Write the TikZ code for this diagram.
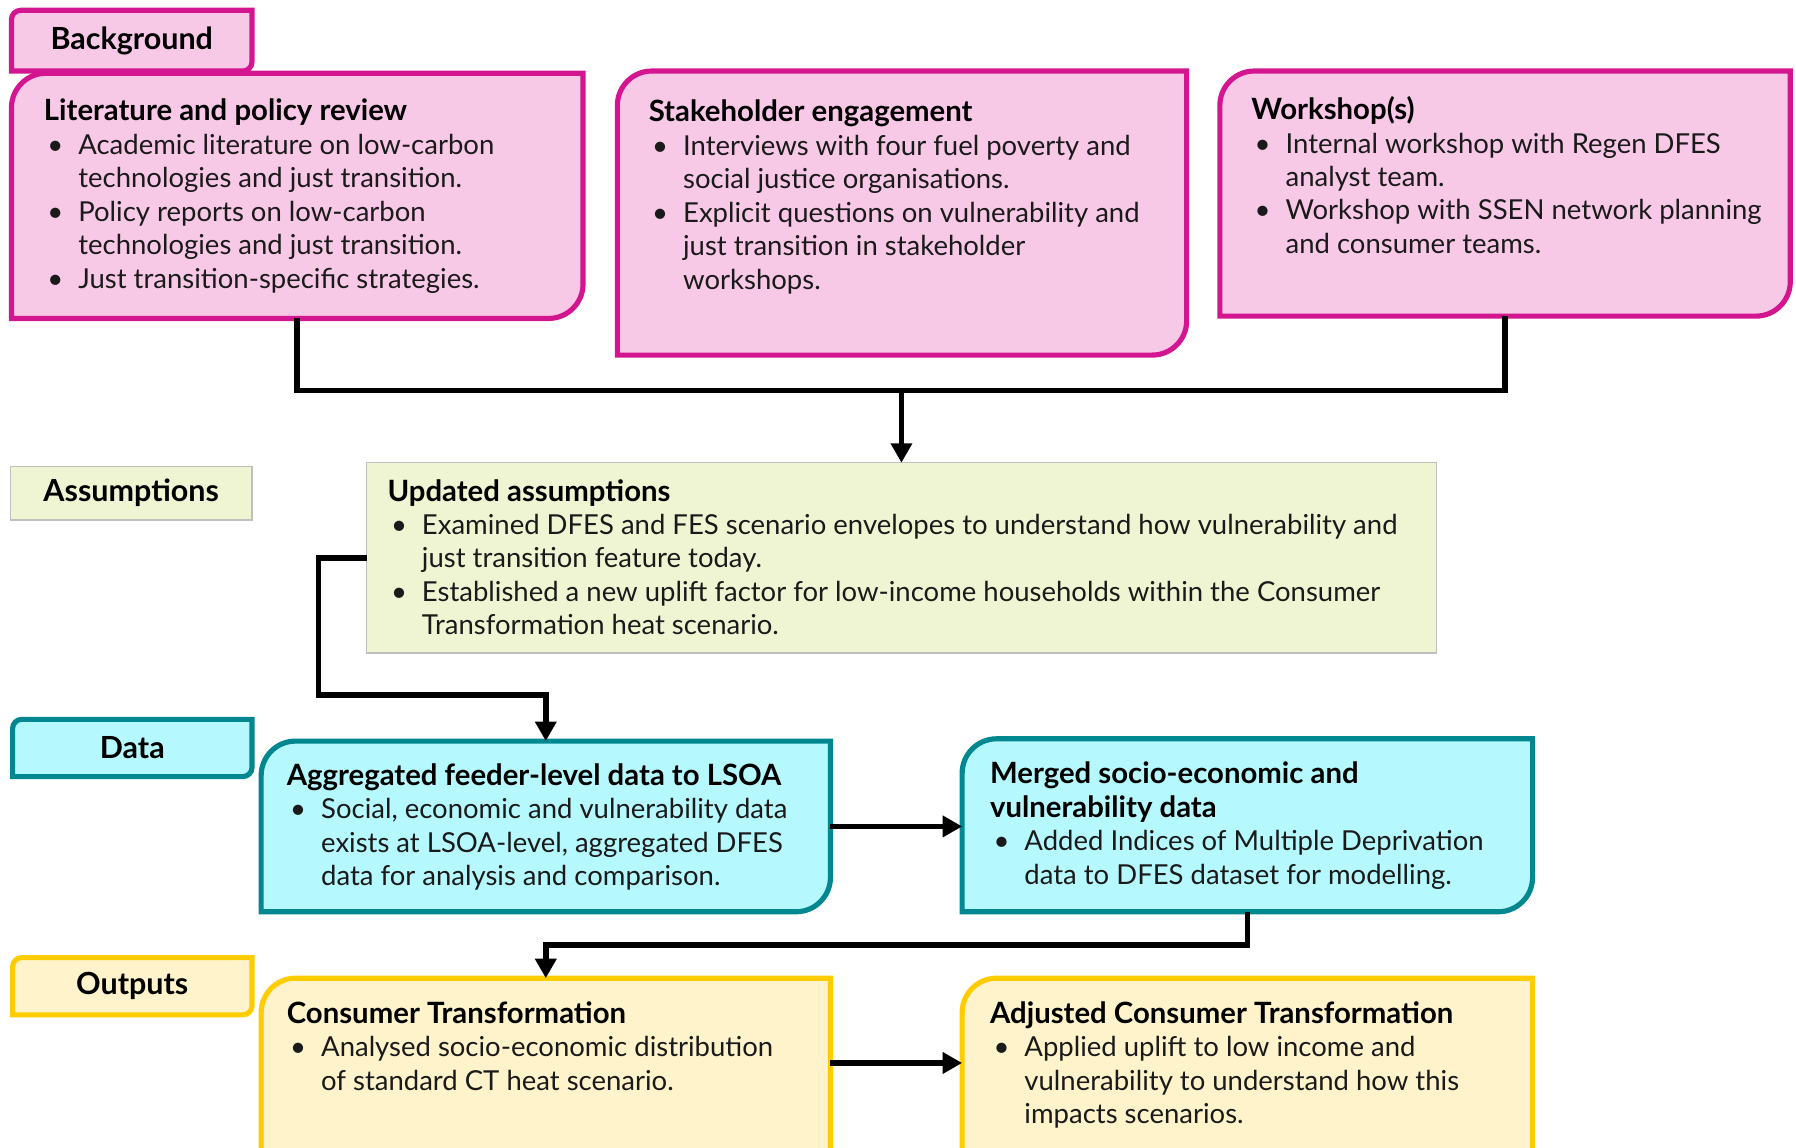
\documentclass[tikz,border=0pt]{standalone}
\usepackage{fontspec}
\setmainfont{Lato}
\usetikzlibrary{calc,arrows.meta}
\definecolor{pinkfill}{HTML}{F8C8E7}
\definecolor{pinkline}{HTML}{D3168F}
\definecolor{greenfill}{HTML}{EFF5D3}
\definecolor{greenline}{HTML}{BFBFBF}
\definecolor{cyanfill}{HTML}{B5F8FD}
\definecolor{cyanline}{HTML}{00878F}
\definecolor{yelfill}{HTML}{FEF3CA}
\definecolor{yelline}{HTML}{FFCC00}
\definecolor{txtcol}{HTML}{1A1A1A}
\newcommand\bul{\hspace*{1.5pt}\makebox[13.5pt][l]{\textbullet}}
\newcommand\cnt{\hspace*{15pt}}
\newcommand\tit[1]{\strut{\fontsize{12.8}{14.6}\selectfont\bfseries\color{black}#1}}
\newcommand\placebox[5]{\node[boxbase,anchor=north west,minimum width={(#4-#2)*0.5pt},minimum height={(#5-#3)*0.5pt}] (#1) at (#2,#3) {};}
\newcommand\cornerbox[3]{%
  \path[#1] (#2.south west) -- ($(#2.north west)+(0,#3)$)
    .. controls ($(#2.north west)+(0,0.448*#3)$) and ($(#2.north west)+(0.448*#3,0)$) .. ($(#2.north west)+(#3,0)$)
    -- (#2.north east) -- ($(#2.south east)+(0,-#3)$)
    .. controls ($(#2.south east)+(0,-0.448*#3)$) and ($(#2.south east)+(-0.448*#3,0)$) .. ($(#2.south east)+(-#3,0)$)
    -- cycle;}
\begin{document}
\begin{tikzpicture}[x=0.5pt,y=-0.5pt,
  boxbase/.style={rectangle,draw=none,inner sep=0pt,outer sep=0pt},
  pinkbox/.style={fill=pinkfill,draw=pinkline,line width=2.25pt},
  cyanbox/.style={fill=cyanfill,draw=cyanline,line width=2.25pt},
  yelbox/.style={fill=yelfill,draw=yelline,line width=2.25pt},
  greenbox/.style={fill=greenfill,draw=greenline,line width=0.6pt},
  txt/.style={anchor=north west,align=left,inner sep=0pt,text=txtcol,font=\fontsize{12}{14.6}\selectfont},
  lbl/.style={inner sep=0pt,font=\fontsize{13.3}{15}\selectfont\bfseries},
  conn/.style={draw=black,line width=2.5pt},
  arr/.style={conn,-{Triangle[width=9pt,length=8.5pt]}}]
\useasboundingbox (0,0) rectangle (1568,1002);
\clip (0,0) rectangle (1568,1002);

% boxes
\placebox{bgtab}{10}{9}{220}{62}
\placebox{lit}{10}{64}{509}{278}
\placebox{stake}{539}{62}{1036}{310}
\placebox{work}{1065}{62}{1563}{276}
\placebox{asmtab}{9}{407}{220}{454}
\placebox{upd}{320}{404}{1254}{570}
\placebox{datatab}{11}{628}{220}{678}
\placebox{agg}{228}{647}{725}{796}
\placebox{merged}{840}{645}{1338}{796}
\placebox{outtab}{11}{836}{220}{886}
\placebox{ct}{228}{854}{725}{1040}
\placebox{act}{840}{854}{1338}{1040}

\cornerbox{pinkbox}{bgtab}{8}
\cornerbox{pinkbox}{lit}{30}
\cornerbox{pinkbox}{stake}{30}
\cornerbox{pinkbox}{work}{30}
\path[greenbox] (asmtab.south west) rectangle (asmtab.north east);
\path[greenbox] (upd.south west) rectangle (upd.north east);
\cornerbox{cyanbox}{datatab}{8}
\cornerbox{cyanbox}{agg}{30}
\cornerbox{cyanbox}{merged}{30}
\cornerbox{yelbox}{outtab}{8}
\cornerbox{yelbox}{ct}{30}
\cornerbox{yelbox}{act}{30}

% labels
\node[lbl] (bgtxt) at (bgtab.center) {Background};
\node[lbl] (asmtxt) at (asmtab.center) {Assumptions};
\node[lbl] (datatxt) at (datatab.center) {Data};
\node[lbl] (outtxt) at (outtab.center) {Outputs};

% texts
\node[txt] (littxt) at (38,84.6) {\tit{Literature and policy review}\\
\bul Academic literature on low-carbon\\
\cnt technologies and just transition.\\
\bul Policy reports on low-carbon\\
\cnt technologies and just transition.\\
\bul Just transition-specific strategies.};

\node[txt] (staketxt) at (566,85.6) {\tit{Stakeholder engagement}\\
\bul Interviews with four fuel poverty and\\
\cnt social justice organisations.\\
\bul Explicit questions on vulnerability and\\
\cnt just transition in stakeholder\\
\cnt workshops.};

\node[txt] (worktxt) at (1092,83.6) {\tit{Workshop(s)}\\
\bul Internal workshop with Regen DFES\\
\cnt analyst team.\\
\bul Workshop with SSEN network planning\\
\cnt and consumer teams.};

\node[txt] (updtxt) at (338,416.6) {\tit{Updated assumptions}\\
\bul Examined DFES and FES scenario envelopes to understand how vulnerability and\\
\cnt just transition feature today.\\
\bul Established a new uplift factor for low-income households within the Consumer\\
\cnt Transformation heat scenario.};

\node[txt] (aggtxt) at (250,664.6) {\tit{Aggregated feeder-level data to LSOA}\\
\bul Social, economic and vulnerability data\\
\cnt exists at LSOA-level, aggregated DFES\\
\cnt data for analysis and comparison.};

\node[txt] (mergedtxt) at (864,663.6) {\tit{Merged socio-economic and}\\
\tit{vulnerability data}\\
\bul Added Indices of Multiple Deprivation\\
\cnt data to DFES dataset for modelling.};

\node[txt] (cttxt) at (250,872.6) {\tit{Consumer Transformation}\\
\bul Analysed socio-economic distribution\\
\cnt of standard CT heat scenario.};

\node[txt] (acttxt) at (864,872.6) {\tit{Adjusted Consumer Transformation}\\
\bul Applied uplift to low income and\\
\cnt vulnerability to understand how this\\
\cnt impacts scenarios.};

% connectors
\coordinate (j1) at (787,341);
\coordinate (k1) at (278,607);
\coordinate (k2) at (0,825);
\coordinate (c928) at (0,928);
\draw[conn] (lit.south) -- (lit.south |- j1) -- (work.south |- j1) -- (work.south);
\draw[arr] (j1) -- (upd.north);
\draw[arr] (upd.west) -| (k1) -| (agg.north);
\draw[arr] (agg.east) -- (agg.east -| merged.west);
\draw[arr] (merged.south) |- (ct.north |- k2) -- (ct.north);
\draw[arr] (ct.east |- c928) -- (act.west |- c928);
\end{tikzpicture}
\end{document}
